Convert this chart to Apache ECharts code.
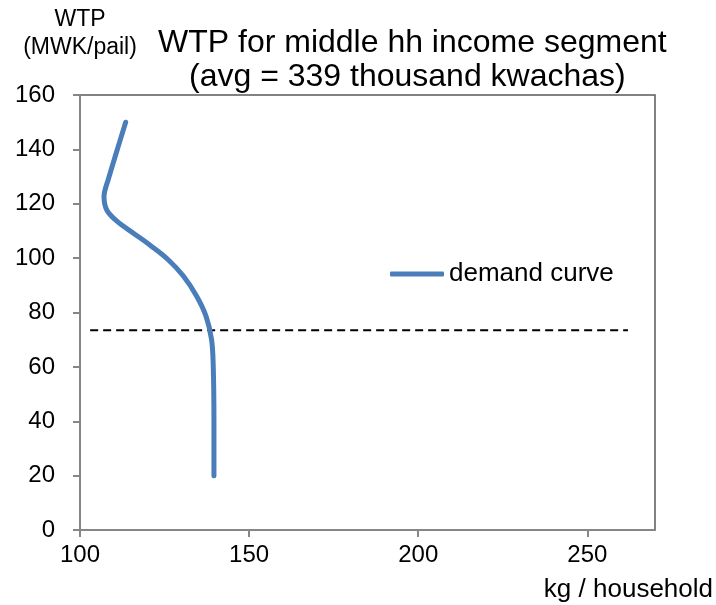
<!DOCTYPE html>
<html>
<head>
<meta charset="utf-8">
<script src="https://cdn.jsdelivr.net/npm/echarts@6/dist/echarts.min.js"></script>
<style>
html,body{margin:0;padding:0;background:#fff;}
#chart{width:716px;height:605px;}
</style>
</head>
<body>
<div id="chart"></div>
<script>
// demand curve (kg/household vs WTP)
var demandX = [113.5, 110.8, 108.5, 107.1, 108.0, 111.0, 116.0, 121.0, 126.0, 130.5, 134.5, 137.3, 138.9, 139.4, 139.6, 139.6];
var demandY = [150, 139, 129.5, 122.6, 117.5, 113.5, 109, 104.5, 99.5, 93.5, 86, 78.5, 70, 60, 40, 20];
// horizontal dashed reference line
var refX = [103, 262];
var refY = [73.5, 73.5];
// axis ticks
var xTicks = [100, 150, 200, 250];
var yTicks = [0, 20, 40, 60, 80, 100, 120, 140, 160];
var seriesName = 'demand curve';
var titleLine1 = 'WTP for middle hh income segment';
var titleLine2 = '(avg = 339 thousand kwachas)';
var yName = 'WTP\n(MWK/pail)';
var xName = 'kg / household';

function zip(a, b) { return a.map(function (v, i) { return [v, b[i]]; }); }

var FONT = '"Liberation Sans", Arial, sans-serif';
var chart = echarts.init(document.getElementById('chart'), null, {renderer: 'canvas'});
chart.setOption({
  animation: false,
  backgroundColor: '#ffffff',
  textStyle: {fontFamily: FONT},
  title: [
    {text: titleLine1, left: 158, top: 27, padding: 0,
     textStyle: {fontFamily: FONT, fontSize: 32, fontWeight: 'normal', color: '#000'}},
    {text: titleLine2, left: 189, top: 61, padding: 0,
     textStyle: {fontFamily: FONT, fontSize: 32, fontWeight: 'normal', color: '#000'}}
  ],
  grid: {left: 80, top: 95, right: 61, bottom: 75, show: true,
         borderColor: '#595959', borderWidth: 1.5, backgroundColor: '#fff'},
  legend: {
    data: [{name: seriesName, icon: 'roundRect'}], left: 390, top: 261, padding: 0,
    itemWidth: 54, itemHeight: 5, itemStyle: {color: '#4A7EBB'},
    textStyle: {fontFamily: FONT, fontSize: 26, color: '#000'}
  },
  xAxis: {
    type: 'value', min: 100, max: 270, interval: 50,
    name: xName, nameLocation: 'end', nameGap: 58,
    nameTextStyle: {fontFamily: FONT, fontSize: 26, color: '#000', align: 'right', verticalAlign: 'top', padding: [47, 0, 0, 0]},
    axisLine: {show: true, lineStyle: {color: '#868686', width: 2}},
    axisTick: {show: true, length: 7, inside: false, customValues: xTicks, lineStyle: {color: '#868686', width: 2}},
    axisLabel: {customValues: xTicks, margin: 13, fontFamily: FONT, fontSize: 24, color: '#000'},
    splitLine: {show: false}
  },
  yAxis: {
    type: 'value', min: 0, max: 160, interval: 20,
    name: yName, nameLocation: 'end', nameGap: 33,
    nameTextStyle: {fontFamily: FONT, fontSize: 23, color: '#000', align: 'center', verticalAlign: 'bottom', lineHeight: 28},
    axisLine: {show: true, lineStyle: {color: '#868686', width: 2}},
    axisTick: {show: true, length: 7, inside: false, lineStyle: {color: '#868686', width: 2}},
    axisLabel: {margin: 25, fontFamily: FONT, fontSize: 24, color: '#000',
                formatter: function (v) { return yTicks.indexOf(v) >= 0 ? String(v) : ''; }},
    splitLine: {show: false}
  },
  series: [
    {
      name: seriesName, type: 'line', data: zip(demandX, demandY),
      smooth: 0.35, symbol: 'none',
      lineStyle: {color: '#4A7EBB', width: 5, cap: 'round', join: 'round'},
      itemStyle: {color: '#4A7EBB'},
      z: 3
    },
    {
      name: 'reference', type: 'line', data: zip(refX, refY),
      symbol: 'none', silent: true,
      lineStyle: {color: '#000', width: 2, type: [8, 5]},
      z: 2
    }
  ]
});
</script>
</body>
</html>
